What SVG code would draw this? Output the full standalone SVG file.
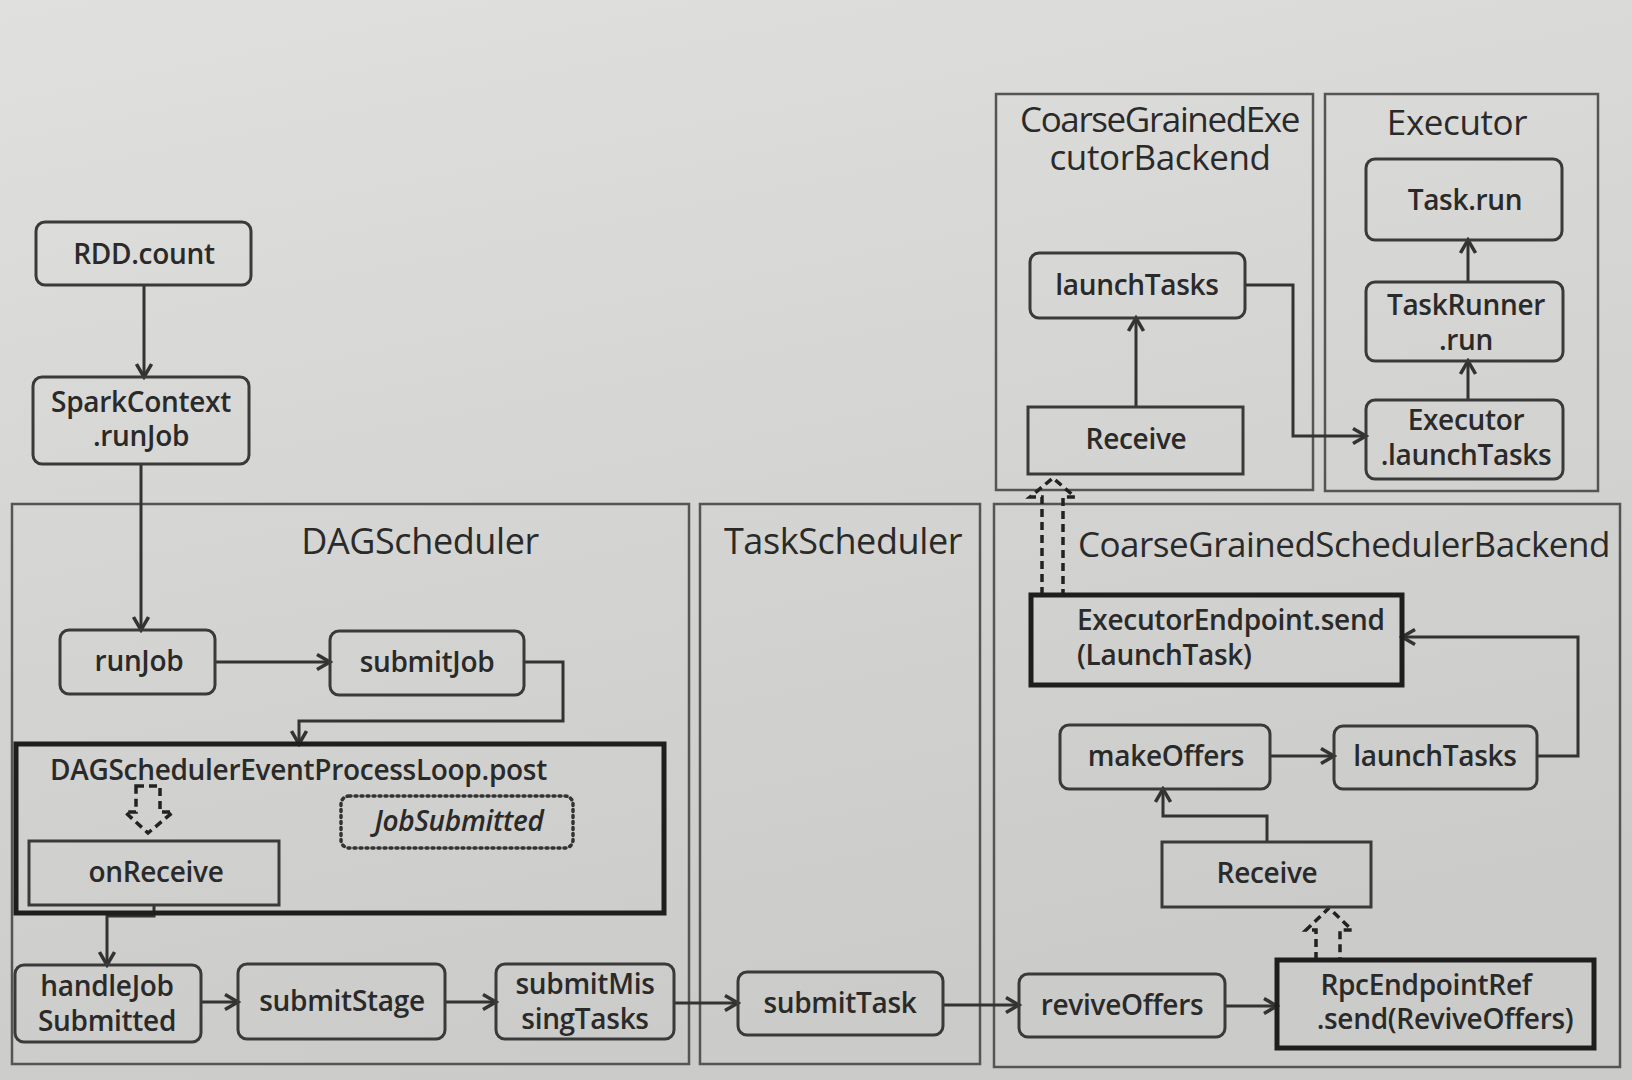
<svg xmlns="http://www.w3.org/2000/svg" width="1632" height="1080" viewBox="0 0 1632 1080">
<defs>
<linearGradient id="bg" x1="0" y1="0" x2="0.3" y2="1">
<stop offset="0" stop-color="#e0e0de"/>
<stop offset="0.5" stop-color="#d5d5d3"/>
<stop offset="1" stop-color="#cbcbc9"/>
</linearGradient>
<marker id="ah" markerUnits="userSpaceOnUse" markerWidth="18" markerHeight="18" refX="15" refY="9" orient="auto">
<path d="M2,1.5 L15,9 L2,16.5" fill="none" stroke="#333" stroke-width="3.5"/>
</marker>
<style>
text{font-family:"Open Sans","Noto Sans","DejaVu Sans",sans-serif;fill:#2a2a2a;}
.t{font-size:28px;font-weight:600;text-anchor:middle;letter-spacing:-0.3px;}
.l{font-size:28px;font-weight:600;letter-spacing:-0.3px;}
.h{font-size:35px;font-weight:500;text-anchor:middle;letter-spacing:-0.4px;}
.box{fill:none;stroke:#3a3a3a;stroke-width:3;}
.thick{fill:none;stroke:#1e1e1e;stroke-width:5;}
.cont{fill:none;stroke:#555;stroke-width:2.5;}
.c{fill:none;stroke:#333;stroke-width:3;marker-end:url(#ah);}
.hol{fill:none;stroke:#222;stroke-width:3.5;stroke-dasharray:8 5;}
</style>
</defs>
<rect width="1632" height="1080" fill="url(#bg)"/>

<g id="containers">
<g id="dagscheduler"><rect class="cont" x="12" y="504" width="677" height="560"/><text class="h" x="420" y="554" style="font-size:36px">DAGScheduler</text></g>
<g id="taskscheduler"><rect class="cont" x="700" y="504" width="280" height="560"/><text class="h" x="843" y="554" style="font-size:36px">TaskScheduler</text></g>
<g id="cgsb"><rect class="cont" x="994" y="504" width="626" height="563"/><text class="h" x="1344" y="557" textLength="532">CoarseGrainedSchedulerBackend</text></g>
<g id="cgeb"><rect class="cont" x="996" y="94" width="317" height="396"/><text class="h" x="1160" y="132" textLength="280">CoarseGrainedExe</text><text class="h" x="1160" y="170">cutorBackend</text></g>
<g id="executor"><rect class="cont" x="1325" y="94" width="273" height="397"/><text class="h" x="1457" y="135">Executor</text></g>
</g>

<g id="connectors">
<path class="c" d="M144,285 V377"/>
<path class="c" d="M141,464 V630"/>
<path class="c" d="M215,662 H330"/>
<path class="c" d="M524,662 H563 V721 H299 V744"/>
<path class="c" d="M154,905 V916 H107 V965"/>
<path class="c" d="M201,1002 H238"/>
<path class="c" d="M445,1002 H496"/>
<path class="c" d="M674,1003 H738"/>
<path class="c" d="M943,1005 H1019"/>
<path class="c" d="M1225,1006 H1277"/>
<path class="c" d="M1267,842 V816 H1163 V789"/>
<path class="c" d="M1270,756 H1334"/>
<path class="c" d="M1537,756 H1578 V637 H1402"/>
<path class="c" d="M1136,407 V318"/>
<path class="c" d="M1245,285 H1293 V436 H1366"/>
<path class="c" d="M1468,400 V361"/>
<path class="c" d="M1468,282 V240"/>
<polygon class="hol" points="136,786 160,786 160,812 173,812 148,833 125,812 136,812"/>
<polyline class="hol" points="1042,595 1042,497 1030,497 1053,478 1075,497 1063,497 1063,595"/>
<polyline class="hol" points="1316,960 1316,930 1306,930 1329,908 1352,930 1340,930 1340,960"/>
</g>

<g id="rddcount"><rect class="box" x="36" y="222" width="215" height="63" rx="9"/><text class="t" x="144" y="264">RDD.count</text></g>
<g id="sparkcontext"><rect class="box" x="33" y="377" width="216" height="87" rx="9"/><text class="t" x="141" y="412">SparkContext</text><text class="t" x="141" y="446">.runJob</text></g>
<g id="runjob"><rect class="box" x="60" y="630" width="155" height="64" rx="9"/><text class="t" x="139" y="671">runJob</text></g>
<g id="submitjob"><rect class="box" x="330" y="631" width="194" height="64" rx="9"/><text class="t" x="427" y="672">submitJob</text></g>
<g id="eventloop"><rect class="thick" x="16" y="744" width="648" height="169"/><text class="l" x="50" y="780">DAGSchedulerEventProcessLoop.post</text></g>
<g id="jobsubmitted"><rect x="341" y="796" width="232" height="52" rx="8" fill="none" stroke="#333" stroke-width="3.5" stroke-dasharray="2 4" stroke-linecap="round"/><text class="t" x="459" y="831" style="font-style:italic">JobSubmitted</text></g>
<g id="onreceive"><rect class="box" x="29" y="841" width="250" height="64"/><text class="t" x="156" y="882">onReceive</text></g>
<g id="handlejob"><rect class="box" x="15" y="965" width="186" height="77" rx="9"/><text class="t" x="107" y="996">handleJob</text><text class="t" x="107" y="1031">Submitted</text></g>
<g id="submitstage"><rect class="box" x="238" y="964" width="207" height="75" rx="9"/><text class="t" x="342" y="1011">submitStage</text></g>
<g id="submitmissing"><rect class="box" x="496" y="964" width="178" height="75" rx="9"/><text class="t" x="585" y="994">submitMis</text><text class="t" x="585" y="1029">singTasks</text></g>
<g id="submittask"><rect class="box" x="738" y="972" width="205" height="63" rx="9"/><text class="t" x="840" y="1013">submitTask</text></g>
<g id="reviveoffers"><rect class="box" x="1019" y="974" width="206" height="63" rx="9"/><text class="t" x="1122" y="1015">reviveOffers</text></g>
<g id="rpcendpoint"><rect class="thick" x="1277" y="960" width="317" height="88"/><text class="t" x="1426" y="995">RpcEndpointRef</text><text class="t" x="1445" y="1029">.send(ReviveOffers)</text></g>
<g id="receive2"><rect class="box" x="1162" y="842" width="209" height="65"/><text class="t" x="1267" y="883">Receive</text></g>
<g id="makeoffers"><rect class="box" x="1060" y="725" width="210" height="64" rx="9"/><text class="t" x="1166" y="766">makeOffers</text></g>
<g id="launchtasks2"><rect class="box" x="1334" y="726" width="203" height="63" rx="9"/><text class="t" x="1435" y="766">launchTasks</text></g>
<g id="executorendpoint"><rect class="thick" x="1031" y="595" width="371" height="90"/><text class="l" x="1077" y="630">ExecutorEndpoint.send</text><text class="l" x="1077" y="665">(LaunchTask)</text></g>
<g id="receive1"><rect class="box" x="1028" y="407" width="215" height="67"/><text class="t" x="1136" y="449">Receive</text></g>
<g id="launchtasks1"><rect class="box" x="1030" y="253" width="215" height="65" rx="9"/><text class="t" x="1137" y="295">launchTasks</text></g>
<g id="taskrun"><rect class="box" x="1366" y="159" width="196" height="81" rx="9"/><text class="t" x="1465" y="210">Task.run</text></g>
<g id="taskrunner"><rect class="box" x="1366" y="282" width="197" height="79" rx="9"/><text class="t" x="1466" y="315">TaskRunner</text><text class="t" x="1466" y="350">.run</text></g>
<g id="executorlaunch"><rect class="box" x="1366" y="400" width="197" height="79" rx="9"/><text class="t" x="1466" y="430">Executor</text><text class="t" x="1466" y="465">.launchTasks</text></g>
</svg>
